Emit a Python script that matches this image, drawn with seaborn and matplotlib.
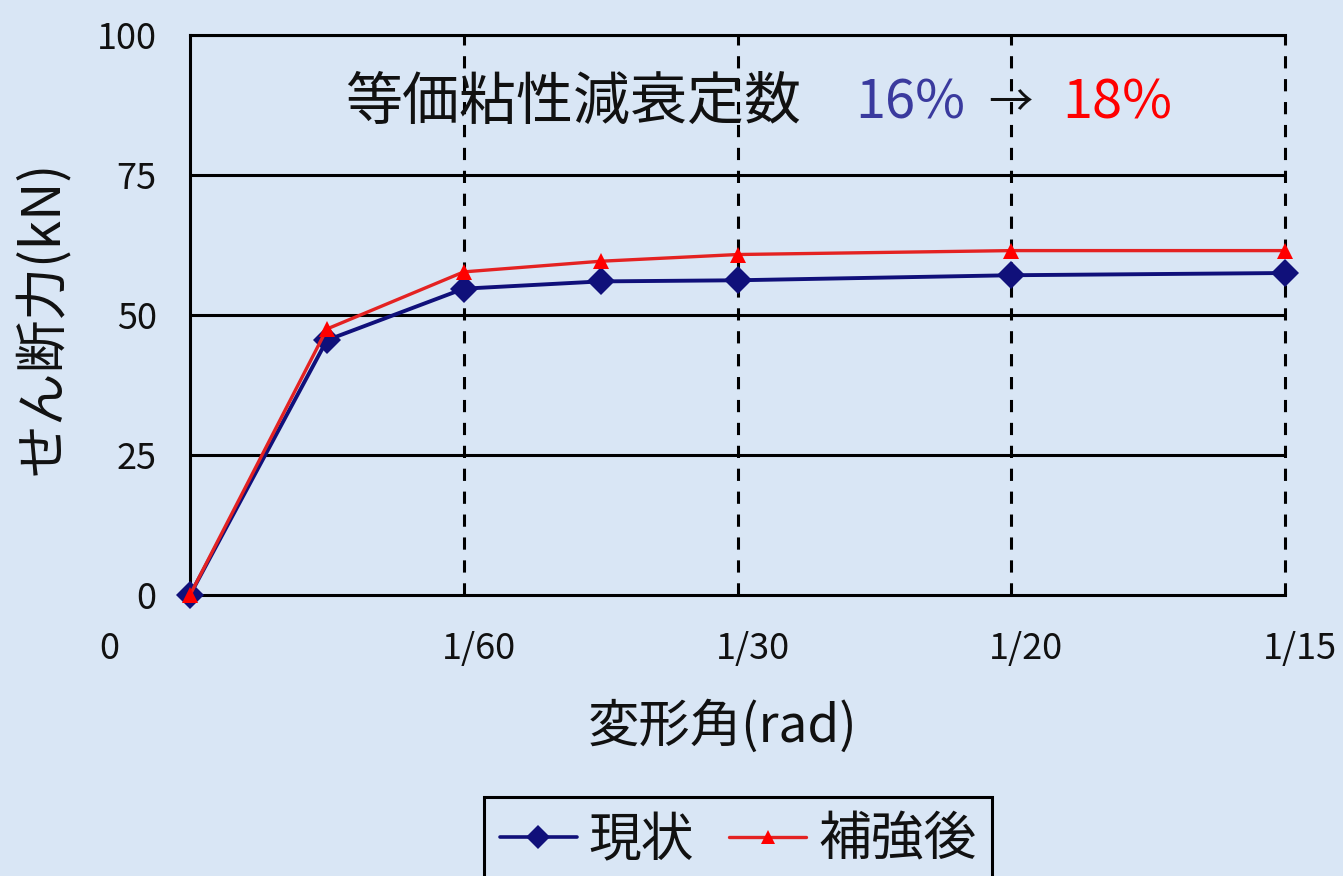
import matplotlib
matplotlib.use("Agg")
import matplotlib.pyplot as plt
import numpy as np
import pandas as pd
import seaborn as sns
from matplotlib.transforms import ScaledTranslation
from matplotlib.lines import Line2D

# Drift angle (rad) and shear force (kN)
angle = [0, 1/120, 1/60, 1/40, 1/30, 1/20, 1/15]
shear_current = [0, 45.5, 54.7, 56.0, 56.2, 57.1, 57.5]
shear_retrofit = [0, 47.5, 57.7, 59.6, 60.8, 61.5, 61.5]
series_names = ["現状", "補強後"]

xtick_pos = [0, 1/60, 1/30, 1/20, 1/15]
xtick_labels = ["0", "1/60", "1/30", "1/20", "1/15"]
ytick_pos = [0, 25, 50, 75, 100]
ytick_labels = ["0", "25", "50", "75", "100"]

damping_label = "等価粘性減衰定数"
damping_before = "16%"
damping_after = "18%"

sns.set_theme(style="white")
plt.rcParams["font.family"] = ["Noto Sans CJK JP", "DejaVu Sans"]

BG = "#d9e6f5"
NAVY = "#10107a"
RED = "#e42222"

W, H = 1343, 876
fig = plt.figure(figsize=(W / 100, H / 100), dpi=100, facecolor=BG)
ax = fig.add_axes([190 / W, 1 - 595 / H, 1095 / W, 560 / H])
ax.set_facecolor(BG)

df = pd.DataFrame({
    "angle": angle * 2,
    "shear": shear_current + shear_retrofit,
    "series": [series_names[0]] * len(angle) + [series_names[1]] * len(angle),
})

# grid: solid horizontal, dashed vertical
for y in ytick_pos[1:]:
    ax.axhline(y, color="black", lw=2.2, zorder=1)
for x in xtick_pos[1:]:
    ax.axvline(x, color="black", lw=2.2, ls=(0, (4, 3.5)), zorder=1, clip_on=False)

sns.lineplot(data=df[df.series == series_names[0]], x="angle", y="shear",
             color=NAVY, marker="D", markersize=14, markeredgewidth=0,
             lw=2.8, ax=ax, zorder=4, clip_on=False, legend=False)
sns.lineplot(data=df[df.series == series_names[1]], x="angle", y="shear",
             color=RED, marker="^", markersize=11, markeredgewidth=0,
             markerfacecolor="#ff0000", lw=2.4, ax=ax, zorder=5,
             clip_on=False, legend=False)

ax.set_xlim(0, 1/15)
ax.set_ylim(0, 100)
ax.set_xticks(xtick_pos)
ax.set_xticklabels(xtick_labels)
ax.set_yticks(ytick_pos)
ax.set_yticklabels(ytick_labels)
ax.tick_params(axis="both", length=0, labelsize=26, colors="#111111")
ax.tick_params(axis="x", pad=26)
ax.tick_params(axis="y", pad=24)

for i, lab in enumerate(ax.get_xticklabels()):
    dx = -81 if i == 0 else 15
    lab.set_transform(lab.get_transform() + ScaledTranslation(dx / 100, 0, fig.dpi_scale_trans))

for side in ["left", "bottom", "top"]:
    ax.spines[side].set_visible(True)
    ax.spines[side].set_color("black")
    ax.spines[side].set_linewidth(2.2)
ax.spines["right"].set_visible(False)

ax.set_xlabel("変形角(rad)", fontsize=37, color="#111111")
ax.set_ylabel("せん断力(kN)", fontsize=38, color="#111111")
ax.xaxis.set_label_coords((722 - 190) / 1095, -(700 - 595) / 560)
ax.yaxis.set_label_coords((70 - 190) / 1095, (595 - 318) / 560)

# damping annotation
ty = (595 - 103) / 560
ax.text((345 - 190) / 1095, ty, damping_label, transform=ax.transAxes,
        ha="left", va="center", fontsize=41, color="#111111", zorder=6)
ax.text((855 - 190) / 1095, ty, damping_before, transform=ax.transAxes,
        ha="left", va="center", fontsize=39, color="#3a3a9e", zorder=6)
ax.text((988 - 190) / 1095, ty, "→", transform=ax.transAxes,
        ha="left", va="center", fontsize=32, color="#111111", zorder=6)
ax.text((1062 - 190) / 1095, ty, damping_after, transform=ax.transAxes,
        ha="left", va="center", fontsize=39, color="#ff0000", zorder=6)

handles = [
    Line2D([], [], color=NAVY, lw=2.6, marker="D", markersize=12, markeredgewidth=0),
    Line2D([], [], color=RED, lw=2.4, marker="^", markersize=10, markeredgewidth=0,
           markerfacecolor="#ff0000"),
]
leg = fig.legend(handles, series_names, loc="upper center",
                 bbox_to_anchor=(738 / W, 1 - 797 / H), ncol=2,
                 frameon=True, fancybox=False, edgecolor="black", facecolor=BG,
                 framealpha=1, fontsize=38, handlelength=1.46, handletextpad=0.23,
                 columnspacing=0.66, borderpad=0.3, borderaxespad=0)
leg.get_frame().set_linewidth(2.2)
for t in leg.get_texts():
    t.set_color("#111111")

fig.savefig("out.png", dpi=100, facecolor=BG)
